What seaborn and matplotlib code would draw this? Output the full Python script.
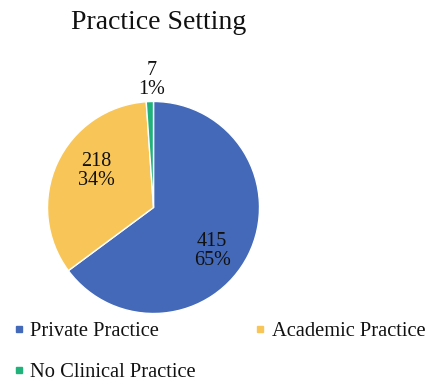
import numpy as np
import matplotlib
matplotlib.use("Agg")
import matplotlib.pyplot as plt
import seaborn as sns
from matplotlib.lines import Line2D

categories = ["Private Practice", "Academic Practice", "No Clinical Practice"]
counts = [415, 218, 7]
percent_labels = ["65%", "34%", "1%"]
colors = ["#4369B8", "#F8C658", "#21B27C"]
title = "Practice Setting"

sns.set_theme(style="white")
plt.rcParams["font.family"] = ["Liberation Serif", "DejaVu Serif"]

fig = plt.figure(figsize=(4.28, 3.85), dpi=100)
ax = fig.add_axes([(153.5 - 106) / 428, (385 - 207.5 - 106) / 385, 212 / 428, 212 / 385])
wedges, _ = ax.pie(counts, colors=colors, startangle=90, counterclock=False,
                   radius=1.0, wedgeprops=dict(edgecolor="white", linewidth=1.0))
ax.set_xlim(-1, 1)
ax.set_ylim(-1, 1)
ax.set_aspect("equal")
ax.axis("off")

dists = [0.69, 0.64, 1.2]
angle_offsets = [-10, -7.7, -1.3]
for w, n, p, d, off in zip(wedges, counts, percent_labels, dists, angle_offsets):
    ang = np.deg2rad((w.theta1 + w.theta2) / 2 + off)
    x, y = d * np.cos(ang), d * np.sin(ang)
    ax.text(x, y, f"{n}\n{p}", ha="center", va="center", fontsize=14.5,
            color="#111111", linespacing=1.0, clip_on=False)

fig.text(0.37, 0.942, title, ha="center", va="center", fontsize=20, color="#111111")

handles = [Line2D([0], [0], marker="s", linestyle="none", markersize=5,
                  markerfacecolor=c, markeredgecolor=c) for c in colors]
order = [0, 2, 1]
fig.legend([handles[i] for i in order], [categories[i] for i in order],
           loc="lower left", bbox_to_anchor=(-0.011, -0.041),
           ncol=2, frameon=False, fontsize=14.8, handlelength=0.5,
           handletextpad=0.3, columnspacing=2.89, labelspacing=1.05,
           labelcolor="#111111")

fig.savefig("out.png", dpi=100)
